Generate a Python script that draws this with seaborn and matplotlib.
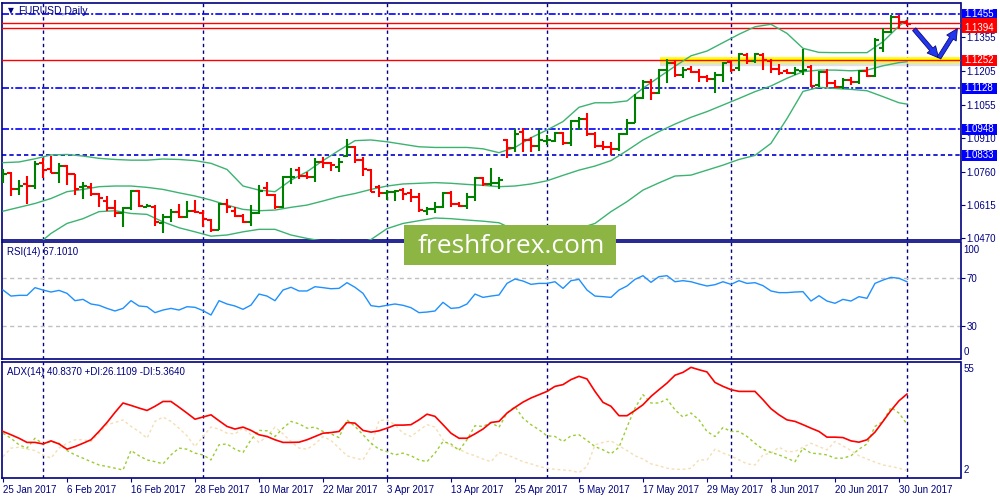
import numpy as np
import pandas as pd
import matplotlib
matplotlib.use("Agg")
import matplotlib.pyplot as plt
import seaborn as sns
from matplotlib.patches import FancyArrowPatch, Rectangle
from matplotlib.transforms import blended_transform_factory

plt.rcParams['font.family'] = ['Liberation Sans', 'DejaVu Sans']

# ---------------- data ----------------
dates = pd.bdate_range('2017-01-25', '2017-07-03')

open_ = [1.0724, 1.0754, 1.0686, 1.0705, 1.0698, 1.0801, 1.0771, 1.0757, 1.0787, 1.0749,
         1.0692, 1.0692, 1.0661, 1.0633, 1.0599, 1.0577, 1.0599, 1.0676, 1.0607, 1.0607,
         1.0536, 1.0560, 1.0585, 1.0560, 1.0588, 1.0577, 1.0548, 1.0504, 1.0618, 1.0586,
         1.0565, 1.0540, 1.0577, 1.0690, 1.0658, 1.0607, 1.0736, 1.0768, 1.0742, 1.0739,
         1.0805, 1.0798, 1.0783, 1.0830, 1.0868, 1.0812, 1.0768, 1.0692, 1.0668, 1.0670,
         1.0680, 1.0666, 1.0648, 1.0589, 1.0595, 1.0607, 1.0668, 1.0619, 1.0610, 1.0648,
         1.0732, 1.0707, 1.0713, 1.0901, 1.0864, 1.0938, 1.0901, 1.0874, 1.0898, 1.0898,
         1.0930, 1.0886, 1.0985, 1.0992, 1.0927, 1.0874, 1.0868, 1.0860, 1.0927, 1.0977,
         1.1085, 1.1158, 1.1107, 1.1210, 1.1239, 1.1188, 1.1213, 1.1202, 1.1177, 1.1169,
         1.1188, 1.1246, 1.1217, 1.1276, 1.1251, 1.1276, 1.1251, 1.1213, 1.1207, 1.1198,
         1.1207, 1.1224, 1.1143, 1.1202, 1.1153, 1.1133, 1.1165, 1.1158, 1.1206, 1.1183,
         1.1305, 1.1378, 1.1445, 1.1422]
high = [1.0771, 1.0761, 1.0724, 1.0742, 1.0810, 1.0820, 1.0830, 1.0798, 1.0790, 1.0749,
        1.0714, 1.0710, 1.0665, 1.0655, 1.0636, 1.0607, 1.0679, 1.0680, 1.0618, 1.0614,
        1.0574, 1.0595, 1.0618, 1.0632, 1.0636, 1.0592, 1.0551, 1.0624, 1.0639, 1.0604,
        1.0574, 1.0614, 1.0702, 1.0714, 1.0661, 1.0742, 1.0776, 1.0780, 1.0761, 1.0820,
        1.0824, 1.0805, 1.0822, 1.0904, 1.0874, 1.0827, 1.0771, 1.0702, 1.0680, 1.0680,
        1.0690, 1.0685, 1.0666, 1.0607, 1.0629, 1.0673, 1.0677, 1.0629, 1.0668, 1.0736,
        1.0736, 1.0776, 1.0736, 1.0904, 1.0948, 1.0952, 1.0915, 1.0948, 1.0923, 1.0938,
        1.0938, 1.0989, 1.1001, 1.1021, 1.0938, 1.0898, 1.0893, 1.0933, 1.0992, 1.1104,
        1.1166, 1.1169, 1.1213, 1.1256, 1.1249, 1.1224, 1.1227, 1.1213, 1.1188, 1.1202,
        1.1246, 1.1254, 1.1286, 1.1286, 1.1286, 1.1283, 1.1257, 1.1236, 1.1213, 1.1221,
        1.1301, 1.1231, 1.1206, 1.1212, 1.1165, 1.1173, 1.1177, 1.1209, 1.1224, 1.1349,
        1.1393, 1.1452, 1.1452, 1.1430]
low = [1.0710, 1.0655, 1.0658, 1.0618, 1.0683, 1.0732, 1.0754, 1.0710, 1.0702, 1.0658,
       1.0639, 1.0654, 1.0607, 1.0589, 1.0560, 1.0518, 1.0592, 1.0604, 1.0604, 1.0523,
       1.0493, 1.0539, 1.0555, 1.0555, 1.0577, 1.0516, 1.0495, 1.0504, 1.0577, 1.0560,
       1.0533, 1.0523, 1.0573, 1.0655, 1.0596, 1.0602, 1.0705, 1.0727, 1.0727, 1.0717,
       1.0776, 1.0765, 1.0761, 1.0827, 1.0798, 1.0742, 1.0670, 1.0651, 1.0636, 1.0633,
       1.0636, 1.0629, 1.0582, 1.0570, 1.0577, 1.0600, 1.0607, 1.0604, 1.0595, 1.0633,
       1.0698, 1.0700, 1.0683, 1.0820, 1.0849, 1.0849, 1.0849, 1.0854, 1.0879, 1.0890,
       1.0879, 1.0874, 1.0945, 1.0918, 1.0864, 1.0857, 1.0835, 1.0854, 1.0923, 1.0977,
       1.1080, 1.1077, 1.1104, 1.1151, 1.1180, 1.1173, 1.1195, 1.1158, 1.1158, 1.1110,
       1.1158, 1.1202, 1.1207, 1.1236, 1.1242, 1.1210, 1.1198, 1.1188, 1.1192, 1.1188,
       1.1188, 1.1133, 1.1136, 1.1133, 1.1128, 1.1124, 1.1143, 1.1148, 1.1177, 1.1177,
       1.1290, 1.1371, 1.1393, 1.1403]
close = [1.0752, 1.0683, 1.0698, 1.0698, 1.0795, 1.0768, 1.0757, 1.0787, 1.0749, 1.0683,
         1.0698, 1.0661, 1.0643, 1.0602, 1.0580, 1.0599, 1.0676, 1.0610, 1.0610, 1.0540,
         1.0560, 1.0585, 1.0560, 1.0588, 1.0582, 1.0551, 1.0504, 1.0618, 1.0607, 1.0565,
         1.0540, 1.0580, 1.0676, 1.0658, 1.0604, 1.0736, 1.0739, 1.0742, 1.0736, 1.0802,
         1.0798, 1.0790, 1.0805, 1.0868, 1.0812, 1.0771, 1.0673, 1.0668, 1.0670, 1.0676,
         1.0661, 1.0648, 1.0592, 1.0595, 1.0607, 1.0668, 1.0617, 1.0610, 1.0648, 1.0732,
         1.0707, 1.0713, 1.0724, 1.0864, 1.0927, 1.0901, 1.0874, 1.0901, 1.0900, 1.0930,
         1.0886, 1.0985, 1.0992, 1.0927, 1.0874, 1.0868, 1.0860, 1.0927, 1.0977, 1.1085,
         1.1158, 1.1107, 1.1210, 1.1239, 1.1188, 1.1210, 1.1202, 1.1180, 1.1169, 1.1188,
         1.1242, 1.1210, 1.1280, 1.1251, 1.1280, 1.1254, 1.1213, 1.1195, 1.1198, 1.1210,
         1.1210, 1.1139, 1.1202, 1.1153, 1.1133, 1.1165, 1.1158, 1.1206, 1.1183, 1.1342,
         1.1378, 1.1445, 1.1422, 1.1412]

bb_idx = list(range(0, 113, 2)) + [113]
bb_upper = [1.0801, 1.0804, 1.0818, 1.0835, 1.0837, 1.0830, 1.0820, 1.0815, 1.0812, 1.0812,
            1.0817, 1.0815, 1.0810, 1.0798, 1.0771, 1.0698, 1.0680, 1.0673, 1.0724, 1.0761,
            1.0810, 1.0855, 1.0898, 1.0901, 1.0893, 1.0882, 1.0871, 1.0868, 1.0868, 1.0868,
            1.0862, 1.0845, 1.0868, 1.0911, 1.0945, 1.0982, 1.1045, 1.1065, 1.1065, 1.1073,
            1.1129, 1.1178, 1.1226, 1.1272, 1.1293, 1.1330, 1.1367, 1.1400, 1.1411, 1.1371,
            1.1305, 1.1287, 1.1286, 1.1286, 1.1286, 1.1334, 1.1403, 1.1430]
bb_mid = [1.0587, 1.0604, 1.0621, 1.0643, 1.0673, 1.0683, 1.0695, 1.0698, 1.0698, 1.0692,
          1.0683, 1.0668, 1.0654, 1.0636, 1.0614, 1.0595, 1.0589, 1.0592, 1.0604, 1.0614,
          1.0632, 1.0651, 1.0665, 1.0683, 1.0698, 1.0707, 1.0710, 1.0713, 1.0710, 1.0705,
          1.0701, 1.0695, 1.0698, 1.0707, 1.0721, 1.0745, 1.0768, 1.0786, 1.0810, 1.0854,
          1.0901, 1.0938, 1.0971, 1.1001, 1.1026, 1.1055, 1.1084, 1.1114, 1.1139, 1.1173,
          1.1202, 1.1209, 1.1209, 1.1206, 1.1209, 1.1228, 1.1242, 1.1246]
bb_lower = [1.0373, 1.0400, 1.0430, 1.0489, 1.0533, 1.0554, 1.0585, 1.0589, 1.0577, 1.0573,
            1.0540, 1.0514, 1.0496, 1.0477, 1.0482, 1.0496, 1.0507, 1.0507, 1.0482, 1.0467,
            1.0455, 1.0458, 1.0440, 1.0462, 1.0510, 1.0533, 1.0545, 1.0557, 1.0554, 1.0548,
            1.0543, 1.0536, 1.0504, 1.0482, 1.0474, 1.0489, 1.0511, 1.0533, 1.0585, 1.0629,
            1.0680, 1.0712, 1.0742, 1.0746, 1.0768, 1.0790, 1.0815, 1.0833, 1.0886, 1.0995,
            1.1115, 1.1133, 1.1128, 1.1124, 1.1118, 1.1092, 1.1065, 1.1059]

rsi = [60.1, 55.0, 55.6, 55.6, 62.1, 60.1, 58.4, 59.8, 57.3, 51.1,
       52.2, 48.3, 47.2, 44.6, 42.4, 44.6, 51.1, 46.6, 46.0, 41.0,
       43.2, 44.6, 43.2, 46.0, 45.5, 42.7, 39.0, 51.1, 48.3, 46.6,
       43.8, 47.4, 56.7, 55.0, 51.1, 60.1, 62.4, 59.3, 59.3, 62.9,
       62.1, 61.2, 61.5, 66.3, 62.4, 57.3, 46.9, 46.0, 47.2, 48.3,
       47.2, 45.2, 41.0, 41.5, 42.4, 49.7, 44.6, 45.2, 48.3, 56.7,
       53.9, 55.0, 55.9, 65.7, 69.4, 67.7, 64.9, 65.7, 65.7, 67.1,
       61.5, 68.0, 69.1, 60.1, 55.0, 54.5, 53.9, 60.1, 63.5, 69.1,
       72.2, 66.6, 71.4, 72.2, 67.1, 68.0, 67.1, 65.2, 63.5, 64.6,
       67.1, 64.9, 68.0, 65.7, 66.3, 63.8, 59.3, 57.9, 57.9, 58.4,
       58.7, 50.8, 55.3, 50.8, 48.9, 52.2, 50.8, 54.5, 53.1, 65.7,
       68.5, 70.8, 70.0, 67.1]
adx = [23.4, 21.9, 20.3, 18.4, 18.4, 17.7, 19.1, 17.7, 15.3, 16.5,
       18.0, 19.6, 23.4, 27.5, 32.1, 36.4, 35.3, 34.1, 33.0, 34.9,
       37.1, 37.1, 34.5, 31.8, 29.0, 30.0, 31.0, 28.3, 25.7, 24.5,
       25.4, 23.9, 21.9, 21.1, 19.6, 18.4, 18.4, 18.5, 19.6, 21.1,
       22.6, 22.9, 23.4, 27.5, 27.2, 23.9, 23.1, 23.7, 24.9, 26.3,
       26.3, 26.5, 28.7, 31.3, 30.3, 26.5, 22.6, 20.3, 20.3, 22.3,
       24.5, 27.5, 28.0, 31.8, 34.4, 36.8, 38.7, 40.2, 41.7, 44.0,
       44.8, 47.1, 48.6, 47.4, 41.7, 36.7, 34.9, 30.6, 30.6, 33.0,
       35.6, 39.4, 42.5, 45.5, 49.1, 50.4, 52.7, 51.6, 50.6, 45.8,
       44.0, 42.5, 41.7, 41.7, 41.7, 37.9, 33.8, 31.0, 28.7, 28.0,
       26.5, 24.9, 23.4, 20.8, 20.8, 20.6, 19.1, 18.5, 19.6, 23.1,
       28.0, 33.0, 37.4, 40.5]
plus_di = [22.6, 20.3, 17.3, 15.8, 20.3, 17.7, 18.8, 18.0, 14.7, 12.7,
           11.2, 9.6, 8.1, 7.4, 6.6, 5.8, 14.7, 12.3, 10.4, 9.6,
           8.6, 12.7, 15.8, 15.3, 13.5, 12.7, 10.4, 17.3, 17.7, 15.3,
           13.8, 19.6, 23.9, 23.7, 21.1, 24.9, 28.0, 26.9, 24.9, 25.4,
           23.4, 22.3, 20.6, 28.7, 25.7, 21.9, 18.0, 15.3, 14.2, 12.7,
           13.5, 12.3, 10.4, 9.6, 13.5, 18.8, 17.7, 14.7, 19.6, 26.0,
           25.7, 27.5, 25.3, 31.8, 34.8, 29.5, 26.5, 24.2, 21.4, 21.1,
           18.8, 21.4, 21.9, 19.3, 16.5, 15.0, 13.2, 16.2, 25.4, 34.1,
           40.2, 36.4, 36.4, 38.2, 33.3, 30.0, 31.8, 28.7, 23.4, 21.1,
           25.2, 23.4, 23.4, 21.1, 18.0, 15.3, 13.8, 12.7, 11.2, 9.6,
           15.8, 13.5, 13.2, 12.7, 11.2, 11.2, 12.3, 15.3, 17.7, 25.7,
           28.0, 34.4, 31.8, 26.8]
minus_di = [11.9, 15.8, 16.2, 15.3, 14.7, 12.7, 11.2, 15.8, 18.0, 19.6,
            19.6, 18.8, 22.6, 26.5, 27.5, 28.7, 25.7, 23.4, 20.3, 28.0,
            30.0, 28.0, 24.9, 21.4, 16.5, 21.1, 25.4, 24.5, 22.6, 22.3,
            24.9, 21.9, 18.4, 21.1, 25.4, 22.3, 18.8, 15.8, 15.3, 17.7,
            21.1, 19.3, 15.8, 12.3, 11.2, 10.4, 16.5, 28.4, 28.7, 26.5,
            22.6, 21.1, 23.9, 26.5, 25.4, 19.6, 16.8, 15.3, 13.5, 12.3,
            10.8, 9.6, 13.8, 12.7, 11.2, 9.6, 8.6, 7.4, 6.6, 6.1,
            5.8, 5.5, 4.6, 7.4, 17.3, 18.4, 19.1, 16.8, 14.7, 12.3,
            10.8, 8.6, 7.7, 6.6, 6.1, 6.1, 6.6, 10.4, 10.4, 15.3,
            13.5, 12.3, 10.4, 8.6, 8.1, 12.7, 13.5, 16.2, 14.2, 14.2,
            16.2, 18.0, 16.5, 15.0, 18.8, 16.8, 14.7, 12.3, 10.8, 9.4,
            8.1, 7.4, 6.6, 5.5]

red_levels = [1.1415, 1.1394, 1.1252]
blue_levels = [1.1455, 1.1128, 1.0948]
dashed_level = 1.0833
scale_labels = [1.1355, 1.1205, 1.1055, 1.0910, 1.0760, 1.0615, 1.0470]
box_labels = [(1.1455, 'blue'), (1.1415, 'red'), (1.1394, 'red'), (1.1252, 'red'),
              (1.1128, 'blue'), (1.0948, 'blue'), (1.0833, 'blue')]
hidden_labels = [1.1415]        # covered by the 1.1394 label in the reference
highlight_from = 82.1           # bar index where the yellow highlight starts
arrows = [((113.9, 1.1389), (116.95, 1.1263)), ((117.0, 1.1263), (119.3, 1.1392))]

# ---------------- frames ----------------
n = len(dates)
idx = np.arange(n)
bars = pd.DataFrame({'i': idx, 'o': open_, 'h': high, 'l': low, 'c': close})
ind = pd.DataFrame({'i': idx, 'rsi': rsi, 'adx': adx, 'pdi': plus_di, 'mdi': minus_di})
bb = pd.DataFrame({'i': bb_idx, 'up': bb_upper, 'mid': bb_mid, 'lo': bb_lower})
month_starts = [i for i in range(1, n) if dates[i].month != dates[i - 1].month]
tick_idx = list(range(0, n, 8))
tick_lbl = [f"{dates[i].day} {dates[i].strftime('%b %Y')}" for i in tick_idx]

NAVY = '#000080'
GREEN = '#008000'
RED = '#ff0000'
W, H = 1000, 500

fig = plt.figure(figsize=(10, 5), dpi=100, facecolor='white')


def fbox(l, t, r, b):
    return [l / W, 1 - b / H, (r - l) / W, (b - t) / H]


ax_p = fig.add_axes(fbox(2, 2.5, 960.5, 240))
ax_r = fig.add_axes(fbox(2, 242.3, 960.5, 359.3))
ax_a = fig.add_axes(fbox(2, 362.3, 960.5, 478.3))

XL = (-0.125, 119.69)
for ax in (ax_p, ax_r, ax_a):
    ax.set_xlim(*XL)
    for s in ax.spines.values():
        s.set_color(NAVY)
        s.set_linewidth(1.2)
    ax.yaxis.tick_right()
    ax.tick_params(axis='y', length=3, color=NAVY, labelcolor=NAVY, labelsize=7, pad=1.5)
    ax.tick_params(axis='x', bottom=False, labelbottom=False)
    for m in month_starts:
        ax.axvline(m, color=NAVY, lw=1.0, ls=(0, (2.4, 2.4)), zorder=1)

# ---------- price panel ----------
ax_p.set_ylim(1.0460, 1.1507)
ax_p.set_yticks(scale_labels)
ax_p.set_yticklabels([f'{v:.4f}' for v in scale_labels])

for lv in blue_levels:
    ax_p.axhline(lv, color='#0000ff', lw=1.2, ls=(0, (4.2, 1.3, 1.2, 1.3)), zorder=2)
ax_p.axhline(dashed_level, color='#0000cd', lw=1.2, ls=(0, (2.6, 1.8)), zorder=2)

# highlight under the 1.1252 level
ax_p.plot([highlight_from, XL[1]], [1.1252 - 0.0008] * 2, color='#9a9a9a', lw=6,
          alpha=0.3, solid_capstyle='butt', zorder=2)
ax_p.plot([highlight_from, XL[1]], [1.1252] * 2, color='#ffff00', lw=4,
          solid_capstyle='butt', zorder=2.5)
for lv in red_levels:
    ax_p.axhline(lv, color=RED, lw=1.0, zorder=3)

sns.lineplot(data=bb, x='i', y='up', ax=ax_p, color='#3cb371', lw=1.0, legend=False, zorder=3)
sns.lineplot(data=bb, x='i', y='mid', ax=ax_p, color='#3cb371', lw=1.0, legend=False, zorder=3)
sns.lineplot(data=bb, x='i', y='lo', ax=ax_p, color='#3cb371', lw=1.0, legend=False, zorder=3)

cols = np.where(bars['c'] >= bars['o'], GREEN, RED)
ax_p.vlines(bars['i'], bars['l'], bars['h'], colors=cols, lw=1.5, zorder=4)
ax_p.hlines(bars['o'], bars['i'] - 0.45, bars['i'], colors=cols, lw=1.5, zorder=4)
ax_p.hlines(bars['c'], bars['i'], bars['i'] + 0.45, colors=cols, lw=1.5, zorder=4)

# price label boxes on the right scale
tr = blended_transform_factory(ax_p.transAxes, ax_p.transData)
box_x0, box_w, box_h = 1.0016, 0.0366, 0.0046
for v, c in box_labels:
    fc = '#0000ff' if c == 'blue' else '#ff0000'
    ax_p.add_patch(Rectangle((box_x0, v - box_h / 2), box_w, box_h, transform=tr,
                             fc=fc, ec='none', clip_on=False, zorder=9))
    if v not in hidden_labels:
        ax_p.text(1.0035, v, f'{v:.4f}', transform=tr, ha='left', va='center',
                  color='white', fontsize=7, zorder=10)

for (a, b) in arrows:
    ar = FancyArrowPatch(a, b, arrowstyle='simple,head_width=8,head_length=8,tail_width=3',
                         mutation_scale=1, shrinkA=0, shrinkB=0, fc='#2236ee', ec='#0a0a7a',
                         lw=0.6, zorder=8, clip_on=False)
    ax_p.add_patch(ar)

# ---------- RSI panel ----------
ax_r.set_ylim(1.6, 100.4)
ax_r.set_yticks([70, 30])
ax_r.set_yticklabels(['70', '30'])
for lv in (70, 30):
    ax_r.axhline(lv, color='#c0c0c0', lw=1.0, ls=(0, (3, 2.5)), zorder=1)
sns.lineplot(data=ind, x='i', y='rsi', ax=ax_r, color='#1e90ff', lw=1.0, legend=False, zorder=3)
trr = blended_transform_factory(ax_r.transAxes, ax_r.transData)
ax_r.text(1.003, 98.5, '100', transform=trr, ha='left', va='top', color=NAVY, fontsize=7)
ax_r.text(1.003, 3.5, '0', transform=trr, ha='left', va='bottom', color=NAVY, fontsize=7)

# ---------- ADX panel ----------
ax_a.set_ylim(2, 55)
ax_a.set_yticks([])
sns.lineplot(data=ind, x='i', y='mdi', ax=ax_a, color='#f5deb3', lw=1.0, ls=(0, (2, 2)),
             legend=False, zorder=2)
sns.lineplot(data=ind, x='i', y='pdi', ax=ax_a, color='#9acd32', lw=1.0, ls=(0, (2, 2)),
             legend=False, zorder=3)
sns.lineplot(data=ind, x='i', y='adx', ax=ax_a, color='#ff0000', lw=1.2, legend=False, zorder=4)
tra = blended_transform_factory(ax_a.transAxes, ax_a.transData)
ax_a.text(1.003, 54.0, '55', transform=tra, ha='left', va='top', color=NAVY, fontsize=7)
ax_a.text(1.003, 3.5, '2', transform=tra, ha='left', va='bottom', color=NAVY, fontsize=7)

ax_a.set_xticks(tick_idx)
ax_a.set_xticklabels(tick_lbl, ha='left')
ax_a.tick_params(axis='x', bottom=True, labelbottom=True, length=3, color=NAVY,
                 labelcolor=NAVY, labelsize=7, pad=1.5)

for ax in (ax_p, ax_r, ax_a):
    ax.set_xlabel('')
    ax.set_ylabel('')

# ---------- panel captions ----------
fig.text(8 / W, 1 - 11 / H, '\u25bc', fontsize=5.5, color=NAVY, va='center',
         family=['DejaVu Sans'])
fig.text(18 / W, 1 - 11 / H, 'EURUSD,Daily', fontsize=7.5, color=NAVY, va='center')
fig.text(7 / W, 1 - 251.7 / H, 'RSI(14) 67.1010', fontsize=7, color=NAVY, va='center')
fig.text(7 / W, 1 - 371.7 / H, 'ADX(14) 40.8370 +DI:26.1109 -DI:5.3640', fontsize=7,
         color=NAVY, va='center')

# ---------- watermark ----------
fig.patches.append(Rectangle((404 / W, 1 - 264.5 / H), 212 / W, 39.5 / H,
                             transform=fig.transFigure, fc='#8db543', ec='none', zorder=20))
fig.text(511 / W, 1 - 253 / H, 'freshforex.com', fontsize=19, color='white', ha='center',
         va='baseline', family=['Open Sans', 'DejaVu Sans'], zorder=21)

fig.savefig('out.png', dpi=100, facecolor='white')
